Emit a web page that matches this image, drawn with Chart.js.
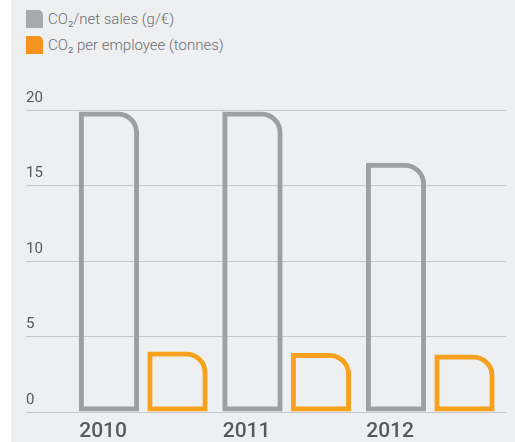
<!DOCTYPE html>
<html>
<head>
<meta charset="utf-8">
<script src="https://cdn.jsdelivr.net/npm/chart.js@4/dist/chart.umd.min.js"></script>
<style>
    html, body { margin: 0; padding: 0; background: #ffffff; }
    #panel {
        position: absolute; left: 11px; top: 0;
        width: 504px; height: 442px;
        background: #eeeff1;
    }
    #chartBox { position: absolute; left: 0; top: 0; width: 504px; height: 442px; }
    #legend { position: absolute; left: 15px; top: 10px; }
    #legend ul { list-style: none; margin: 0; padding: 0; }
    #legend li {
        display: flex; align-items: center;
        height: 18px; margin-bottom: 8px;
        font-family: Roboto, "Liberation Sans", sans-serif;
        font-weight: 300; font-size: 15px; color: #6d6e71;
    }
    #legend .swatch {
        width: 17px; height: 18px; margin-right: 5px;
        border-top-right-radius: 5px;
    }
</style>
</head>
<body>
<div id="panel">
    <div id="legend"></div>
    <div id="chartBox"><canvas id="co2Chart"></canvas></div>
</div>
<script>
var years = [2010, 2011, 2012];
var salesLabel = "CO\u2082/net sales (g/\u20ac)";
var salesValues = [19.9, 19.9, 16.5];
var employeeLabel = "CO\u2082 per employee (tonnes)";
var employeeValues = [4.0, 3.9, 3.8];
var yTicks = [0, 5, 10, 15, 20];

var grey = "#9d9fa2";
var orange = "#f7a11c";

function toPoints(values) {
    return years.map(function (year, i) {
        return { x: year, y: values[i] };
    });
}

// legend as plain html list, two rows stacked at the top left
var htmlLegend = {
    id: "htmlLegend",
    afterUpdate: function (chart) {
        var box = document.getElementById("legend");
        box.innerHTML = "";
        var ul = document.createElement("ul");
        var items = chart.options.plugins.legend.labels.generateLabels(chart);
        items.forEach(function (item, i) {
            var li = document.createElement("li");
            var sw = document.createElement("span");
            sw.className = "swatch";
            sw.style.background = chart.data.datasets[i].legendColor;
            var txt = document.createElement("span");
            txt.textContent = item.text;
            li.appendChild(sw);
            li.appendChild(txt);
            ul.appendChild(li);
        });
        box.appendChild(ul);
    }
};

var corner = { topLeft: 0, topRight: 21, bottomLeft: 0, bottomRight: 0 };

var ctx = document.getElementById("co2Chart").getContext("2d");
var co2Chart = new Chart(ctx, {
    type: "bar",
    data: {
        datasets: [{
            label: salesLabel,
            data: toPoints(salesValues),
            backgroundColor: "rgba(0, 0, 0, 0)",
            borderColor: grey,
            legendColor: "#a7a9ac",
            borderWidth: 5,
            borderSkipped: false,
            borderRadius: corner
        }, {
            label: employeeLabel,
            data: toPoints(employeeValues),
            backgroundColor: "rgba(0, 0, 0, 0)",
            borderColor: orange,
            legendColor: "#f7921e",
            borderWidth: 5,
            borderSkipped: false,
            borderRadius: corner
        }]
    },
    options: {
        responsive: true,
        maintainAspectRatio: false,
        animation: false,
        categoryPercentage: 0.955,
        barPercentage: 0.88,
        layout: {
            padding: { left: 15, right: 9, top: 110, bottom: 0 }
        },
        plugins: {
            legend: { display: false },
            tooltip: { enabled: false }
        },
        scales: {
            x: {
                type: "linear",
                offset: false,
                min: 2009.183,
                max: 2012.528,
                afterBuildTicks: function (axis) {
                    axis.ticks = years.map(function (y) { return { value: y }; });
                },
                // year labels run close to the bottom edge
                afterFit: function (axis) {
                    axis.height = 30;
                },
                grid: { display: false, drawTicks: false },
                border: { display: false },
                ticks: {
                    align: "start",
                    labelOffset: -64,
                    padding: 9,
                    color: "#58595b",
                    font: { family: "Roboto, 'Liberation Sans', sans-serif", size: 21, weight: 500, lineHeight: 1 },
                    callback: function (v) { return String(v); }
                }
            },
            y: {
                min: 0,
                max: 20,
                afterBuildTicks: function (axis) {
                    axis.ticks = yTicks.map(function (v) { return { value: v }; });
                },
                // labels sit above their lines, so no extra room is needed at the ends
                afterFit: function (axis) {
                    axis.paddingTop = 0;
                    axis.paddingBottom = 0;
                },
                grid: { color: "#c6c7ca", lineWidth: 1, drawTicks: false },
                border: { display: false },
                ticks: {
                    mirror: true,
                    padding: 0,
                    labelOffset: -12,
                    color: "#58595b",
                    font: { family: "Roboto, 'Liberation Sans', sans-serif", size: 15, weight: 400 }
                }
            }
        }
    },
    plugins: [htmlLegend]
});
</script>
</body>
</html>
